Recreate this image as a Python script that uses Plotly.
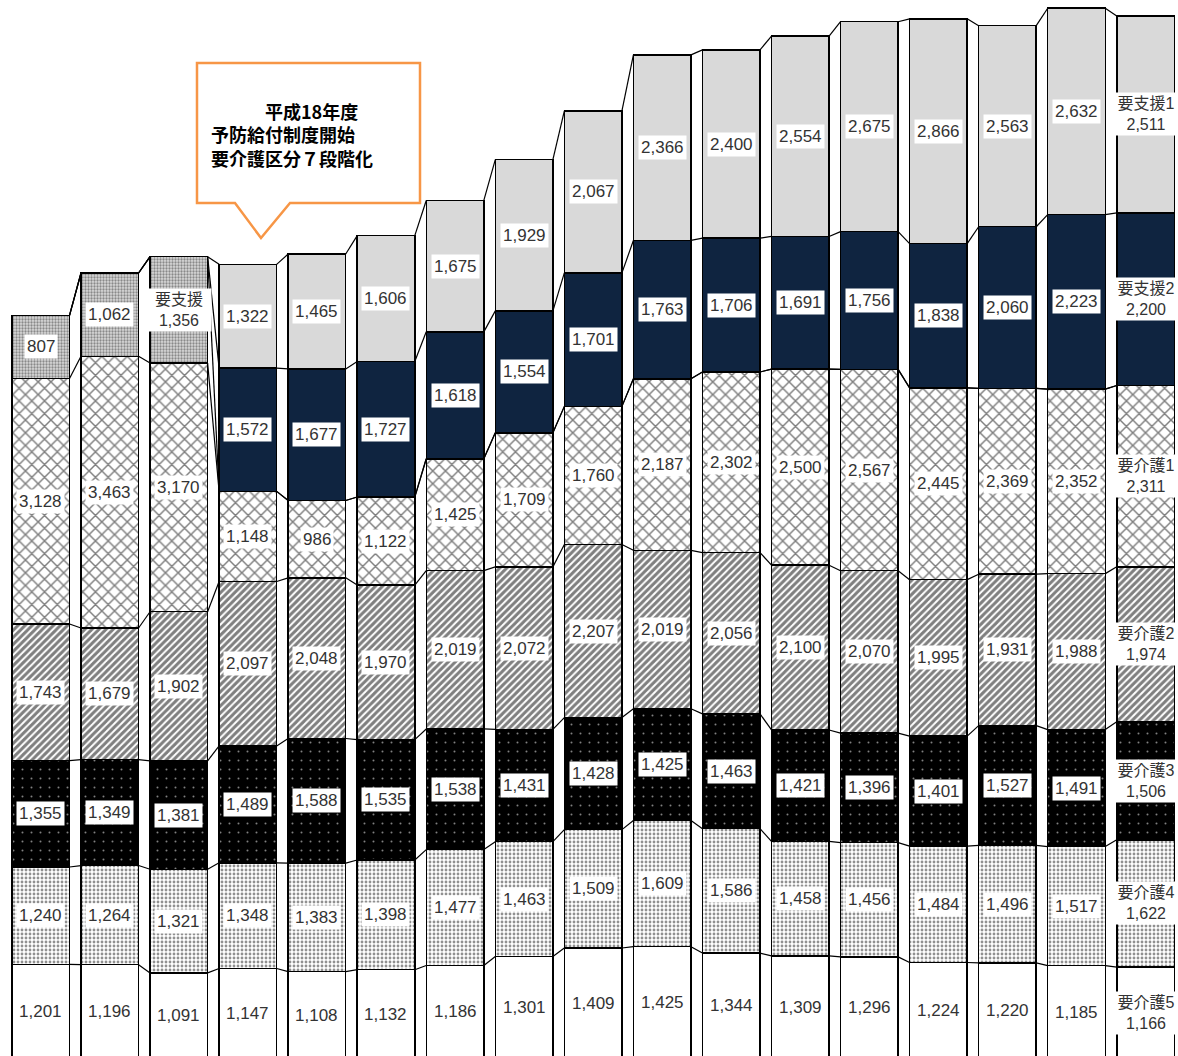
import plotly.graph_objects as go

# ---- data (bottom of the stack first) ----
cols = list(range(17))
kaigo5 = [1201, 1196, 1091, 1147, 1108, 1132, 1186, 1301, 1409, 1425, 1344, 1309, 1296, 1224, 1220, 1185, 1166]
kaigo4 = [1240, 1264, 1321, 1348, 1383, 1398, 1477, 1463, 1509, 1609, 1586, 1458, 1456, 1484, 1496, 1517, 1622]
kaigo3 = [1355, 1349, 1381, 1489, 1588, 1535, 1538, 1431, 1428, 1425, 1463, 1421, 1396, 1401, 1527, 1491, 1506]
kaigo2 = [1743, 1679, 1902, 2097, 2048, 1970, 2019, 2072, 2207, 2019, 2056, 2100, 2070, 1995, 1931, 1988, 1974]
kaigo1 = [3128, 3463, 3170, 1148, 986, 1122, 1425, 1709, 1760, 2187, 2302, 2500, 2567, 2445, 2369, 2352, 2311]
shien_old = [807, 1062, 1356] + [None] * 14
shien2 = [None] * 3 + [1572, 1677, 1727, 1618, 1554, 1701, 1763, 1706, 1691, 1756, 1838, 2060, 2223, 2200]
shien1 = [None] * 3 + [1322, 1465, 1606, 1675, 1929, 2067, 2366, 2400, 2554, 2675, 2866, 2563, 2632, 2511]

series_names = ["要介護5", "要介護4", "要介護3", "要介護2", "要介護1", "要支援", "要支援2", "要支援1"]
series_values = [kaigo5, kaigo4, kaigo3, kaigo2, kaigo1, shien_old, shien2, shien1]

callout_lines = ["\u3000\u3000\u3000平成18年度", "予防給付制度開始", "要介護区分７段階化"]

# ---- styles ----
W, H = 1178, 1056
BAR_W = 0.834
styles = [
    dict(color="white"),
    dict(color="white", pattern=dict(shape=".", fgcolor="#222222", bgcolor="white", size=4, solidity=0.4)),
    dict(color="black", pattern=dict(shape=".", fgcolor="white", bgcolor="black", size=9, solidity=0.04)),
    dict(color="white", pattern=dict(shape="/", fgcolor="black", bgcolor="white", size=5, solidity=0.6)),
    dict(color="white", pattern=dict(shape="x", fgcolor="black", bgcolor="white", size=9, solidity=0.3)),
    dict(color="#d8d8d8", pattern=dict(shape=".", fgcolor="#3a3a3a", bgcolor="#d8d8d8", size=3, solidity=0.45)),
    dict(color="#0f2440"),
    dict(color="#d9d9d9"),
]

NUM_FONT = dict(family="Liberation Sans, Noto Sans CJK JP", size=17, color="#333333")
NAME_FONT = dict(family="Liberation Sans, Noto Sans CJK JP", size=16, color="#333333")

fig = go.Figure()
n = len(cols)
cum = [0] * n
tops = []
annotations = []
for name, vals, st in zip(series_names, series_values, styles):
    marker = dict(color=st["color"], line=dict(color="black", width=1.5))
    if "pattern" in st:
        marker["pattern"] = st["pattern"]
    fig.add_trace(go.Bar(x=cols, y=vals, name=name, width=BAR_W,
                         marker=marker, hoverinfo="skip"))
    last_idx = max(i for i, v in enumerate(vals) if v is not None)
    for i, v in enumerate(vals):
        if v is None:
            continue
        mid = cum[i] + v / 2
        if i == last_idx:
            annotations.append(dict(x=cols[i], y=mid, xref="x", yref="y", text=f"{name}<br>{v:,}",
                                    showarrow=False, font=NAME_FONT, bgcolor="white",
                                    borderpad=2, width=60))
        else:
            annotations.append(dict(x=cols[i], y=mid, xref="x", yref="y", text=f"{v:,}",
                                    showarrow=False, font=NUM_FONT, bgcolor="white", borderpad=2))
    cum = [c + (v or 0) for c, v in zip(cum, vals)]
    tops.append(list(cum))

# series connector lines in the gaps between bars
for t in tops:
    lx, ly = [], []
    for i in range(n - 1):
        lx += [cols[i] + BAR_W / 2, cols[i + 1] - BAR_W / 2, None]
        ly += [t[i], t[i + 1], None]
    fig.add_trace(go.Scatter(x=lx, y=ly, mode="lines", line=dict(color="black", width=1.2),
                             hoverinfo="skip", showlegend=False))

# callout box (pixel -> paper)
def P(x, y):
    return f"{x / W:.5f},{1 - y / H:.5f}"

path = ("M " + P(197, 63) + " L " + P(420, 63) + " L " + P(420, 203) + " L " + P(290, 203)
        + " L " + P(261, 238) + " L " + P(235, 203) + " L " + P(197, 203) + " Z")
shapes = [dict(type="path", path=path, xref="paper", yref="paper",
               line=dict(color="#f79646", width=2.5), fillcolor="white", layer="above")]

CALL_FONT = dict(family="Noto Sans CJK JP", size=18, color="black", weight="bold")
annotations.append(dict(x=209 / W, y=1 - 134 / H, xref="paper", yref="paper",
                        text="<br>".join(callout_lines), align="left",
                        showarrow=False, font=CALL_FONT, xanchor="left", yanchor="middle"))

fig.update_layout(
    width=W, height=H, barmode="stack", showlegend=False,
    margin=dict(l=0, r=0, t=0, b=0),
    paper_bgcolor="white", plot_bgcolor="white",
    xaxis=dict(range=[-0.59, 16.47], visible=False, fixedrange=True),
    yaxis=dict(range=[32, 13493], visible=False, fixedrange=True),
    annotations=annotations, shapes=shapes,
)

fig.write_html("out.html", config={"displayModeBar": False},
               post_script="document.body.style.margin='0';document.body.style.overflow='hidden';")
